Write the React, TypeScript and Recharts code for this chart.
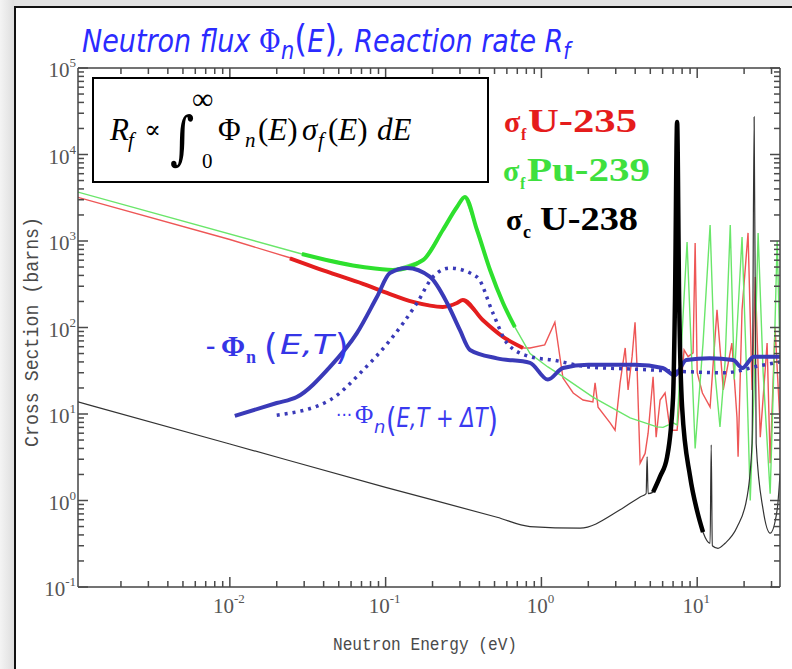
import React from "react";
import { LineChart, Line, XAxis, YAxis } from "recharts";

type Pt = [number, number];

// energy (eV), cross section or flux (barns / arb.)
const u235Thin: Pt[] = [
  [0.00106, 3200], [0.01, 1040], [0.0243, 640], [0.0439, 430], [0.0715, 320],
  [0.102, 251], [0.15, 198], [0.233, 173], [0.287, 192], [0.313, 208],
  [0.42, 122], [0.567, 78], [0.762, 58], [0.845, 58], [1.05, 63], [1.22, 115],
  [1.375, 26], [1.6, 17.5], [1.85, 14.5], [2.14, 13.8], [2.21, 23], [2.31, 12],
  [2.76, 7.9], [2.97, 6.5], [3.2, 23], [3.45, 58], [3.6, 19], [3.82, 46],
  [3.99, 115], [4.11, 35], [4.3, 2.7], [4.63, 3.5], [4.84, 6.0], [5.21, 27],
  [5.45, 5.4], [5.78, 14.5], [6.22, 17.5], [6.7, 6.5], [7.43, 6.5], [8.24, 55],
  [8.74, 46], [9.41, 51], [9.7, 950], [10.0, 30], [10.8, 17.5], [12.1, 12],
  [13.4, 160], [14.7, 19], [16.7, 66], [18.0, 9.2], [18.3, 3.2], [19.4, 160],
  [21.2, 1240], [22.5, 19], [23.6, 384], [25.4, 5.4], [28.1, 66], [29.4, 2.7],
  [31.6, 100], [34, 8],
];

const u235Thick: Pt[] = [
  [0.0243, 630], [0.0439, 430], [0.0715, 320], [0.102, 251], [0.15, 198],
  [0.233, 173], [0.287, 192], [0.313, 208], [0.42, 122], [0.567, 78], [0.762, 58],
];

const pu239Thin: Pt[] = [
  [0.00106, 3680], [0.029, 708], [0.0715, 500], [0.1114, 462], [0.174, 603],
  [0.233, 1340], [0.287, 2470], [0.323, 3230], [0.386, 1340], [0.468, 462],
  [0.567, 192], [0.676, 101], [0.845, 50], [1.1, 35], [1.375, 27], [2.14, 15.7],
  [3.71, 9.0], [5.52, 7.1], [6.04, 7.0], [7.0, 7.9], [7.43, 7.5], [8.61, 973],
  [9.7, 4.0], [10.9, 66], [12.1, 1530], [13.0, 30], [14.0, 7.1], [15.1, 40],
  [16.3, 1530], [17.3, 25], [19.4, 1110], [20.9, 20], [21.9, 1.0], [23.2, 20],
  [24.6, 1240], [26.5, 30], [29.4, 1.2], [31.0, 30], [32.6, 1000], [34, 50],
];

const pu239Thick: Pt[] = [
  [0.029, 708], [0.0715, 500], [0.1114, 462], [0.174, 603], [0.233, 1340],
  [0.287, 2470], [0.323, 3230], [0.386, 1340], [0.468, 462], [0.567, 192], [0.676, 101],
];

const u238Thin: Pt[] = [
  [0.00106, 13.8], [0.01, 4.5], [0.1, 1.42], [0.519, 0.64], [0.845, 0.5],
  [1.77, 0.48], [3.2, 0.78], [4.3, 1.1], [4.7, 1.2], [4.77, 3.2], [4.84, 1.2],
  [5.21, 1.25], [5.78, 1.9], [6.41, 3.2], [7.0, 15.7], [7.2, 200], [7.43, 23800],
  [7.66, 200], [8.0, 12], [9.0, 1.9], [10.0, 0.75], [10.9, 0.43], [12.1, 0.32],
  [12.3, 4.4], [12.5, 0.3], [13.6, 0.28], [15.1, 0.32], [18.0, 0.49], [20.9, 1.1],
  [22.5, 4.6], [23.2, 27200], [23.9, 4.6], [26.5, 0.78], [29.4, 0.42], [32.6, 0.78],
  [34, 2.0],
];

const u238Thick: Pt[] = [
  [5.21, 1.25], [5.78, 1.9], [6.41, 3.2], [7.0, 15.7], [7.2, 200], [7.43, 23800],
  [7.66, 200], [8.0, 12], [9.0, 1.9], [10.0, 0.75], [10.9, 0.43],
];

const fluxT: Pt[] = [
  [0.01076, 9.5], [0.02, 13.4], [0.0269, 15.7], [0.0439, 35], [0.0654, 86],
  [0.0879, 225], [0.1066, 427], [0.137, 487], [0.193, 384], [0.248, 192],
  [0.3, 93], [0.348, 55], [0.519, 44], [0.845, 39], [1.1, 25], [1.375, 34],
  [2.0, 37], [4.0, 37], [6.0, 34], [7.2, 28], [8.5, 42], [12, 44], [17, 42],
  [19.5, 34], [23, 46], [34, 46],
];

const fluxDT: Pt[] = [
  [0.02, 9.7], [0.0439, 14.5], [0.0715, 32], [0.1066, 71], [0.159, 192],
  [0.201, 384], [0.259, 487], [0.386, 384], [0.489, 146], [0.601, 66],
  [0.845, 46], [1.186, 42], [2.0, 35], [4.0, 33], [8.0, 31], [15, 30],
  [25, 36], [34, 40],
];

const xMajor = [0.01, 0.1, 1, 10];
const yMajor = [0.1, 1, 10, 100, 1000, 10000, 100000];
const xDecades = [0.001, 0.01, 0.1, 1, 10];
const yDecades = [0.1, 1, 10, 100, 1000, 10000];
const X_DOMAIN: [number, number] = [0.00106, 34];
const Y_DOMAIN: [number, number] = [0.1, 100000];

const minors = (decades: number[], [lo, hi]: [number, number]) =>
  decades
    .flatMap((d) => [2, 3, 4, 5, 6, 7, 8, 9].map((k) => +(k * d).toPrecision(3)))
    .filter((v) => v > lo && v < hi);

const xTicks = [...xMajor, ...minors(xDecades, X_DOMAIN)].sort((a, b) => a - b);
const yTicks = [...yMajor, ...minors(yDecades, Y_DOMAIN)].sort((a, b) => a - b);

const rows = (pts: Pt[]) => pts.map(([e, s]) => ({ e, s }));
const expOf = (v: number) => Math.round(Math.log10(v));
const isMajor = (v: number) => Math.abs(Math.log10(v) - expOf(v)) < 1e-6;

const AXIS = "#555";
const TICK = "#4a4a4a";
const FRAME = "#444";
const BLUE = "#3a3ab8";

type Side = "bottom" | "top" | "left" | "right";

// inward tick marks (longer for decades); labels only on bottom/left decades
function makeTick(side: Side) {
  return function Tick({ x, y, payload }: any) {
    const v = payload.value;
    const major = isMajor(v);
    const len = major ? 10 : 6;
    const line =
      side === "bottom" ? { x1: x, x2: x, y1: y, y2: y - len }
      : side === "top" ? { x1: x, x2: x, y1: y, y2: y + len }
      : side === "left" ? { x1: x, x2: x + len, y1: y, y2: y }
      : { x1: x, x2: x - len, y1: y, y2: y };
    return (
      <g>
        <line {...line} stroke={TICK} strokeWidth={1.5} />
        {major && side === "bottom" && (
          <text x={x - 1} y={y + 26} textAnchor="middle" fill={AXIS} fontFamily="Liberation Serif" fontSize={21}>
            10<tspan dy={-10} fontSize={13}>{expOf(v)}</tspan>
          </text>
        )}
        {major && side === "left" && (
          <text x={x - 2} y={y + 9} textAnchor="end" fill={AXIS} fontFamily="Liberation Serif" fontSize={21}>
            10<tspan dy={-10} fontSize={13}>{expOf(v)}</tspan>
          </text>
        )}
      </g>
    );
  };
}

const BottomTick = makeTick("bottom");
const TopTick = makeTick("top");
const LeftTick = makeTick("left");
const RightTick = makeTick("right");

function Overlay() {
  const serif = "Liberation Serif";
  return (
    <svg width={792} height={669} style={{ position: "absolute", left: 0, top: 0, pointerEvents: "none" }}>
      {/* title */}
      <g transform="translate(0 52) scale(1 1.15) translate(0 -52)">
        <text x={82} y={52} fill="#2b2bff" fontFamily="DejaVu Sans" fontStyle="italic" fontSize={27}>
          Neutron flux <tspan fontFamily="DejaVu Serif" fontStyle="normal">Φ</tspan>
          <tspan dy={6} fontSize={21}>n</tspan>
          <tspan dy={-6} fontStyle="normal" fontSize={33}>(</tspan>E<tspan fontStyle="normal" fontSize={33}>)</tspan>
          , Reaction rate R<tspan dy={6} fontSize={20}>f</tspan>
        </text>
      </g>

      {/* formula box */}
      <rect x={93} y={78} width={395} height={104} fill="#fff" stroke="#000" strokeWidth={2} />
      <g fontFamily={serif} fill="#000">
        <text x={110} y={140} fontSize={31} fontStyle="italic">R</text>
        <text x={128} y={147} fontSize={21} fontStyle="italic">f</text>
        <text x={144} y={138} fontSize={25} fontFamily="DejaVu Serif">∝</text>
        <g transform="translate(170 0) scale(0.8 1)">
          <text x={0} y={158} fontSize={58} fontFamily="DejaVu Serif">∫</text>
        </g>
        <text x={192} y={109} fontSize={30}>∞</text>
        <text x={202} y={168} fontSize={21}>0</text>
        <text x={218} y={140} fontSize={31}>Φ</text>
        <text x={245} y={147} fontSize={21} fontStyle="italic">n</text>
        <text x={258} y={140} fontSize={31}>(<tspan fontStyle="italic">E</tspan>)</text>
        <text x={302} y={140} fontSize={31} fontStyle="italic">σ</text>
        <text x={318} y={147} fontSize={21} fontStyle="italic">f</text>
        <text x={328} y={140} fontSize={31}>(<tspan fontStyle="italic">E</tspan>)</text>
        <text x={377} y={140} fontSize={31} fontStyle="italic">dE</text>
      </g>

      {/* series names */}
      <g fontFamily={serif} fontWeight="bold">
        <text x={504} y={132} fontSize={30} fill="#e51c1c">σ</text>
        <text x={521} y={140} fontSize={16} fill="#e51c1c">f</text>
        <text x={528} y={132} fontSize={34} fill="#e51c1c" textLength={109} lengthAdjust="spacingAndGlyphs">U-235</text>
        <text x={503} y={181} fontSize={30} fill="#3ee03e">σ</text>
        <text x={520} y={189} fontSize={16} fill="#3ee03e">f</text>
        <text x={527} y={181} fontSize={34} fill="#3ee03e" textLength={123} lengthAdjust="spacingAndGlyphs">Pu-239</text>
        <text x={506} y={230} fontSize={30} fill="#000">σ</text>
        <text x={523} y={238} fontSize={18} fill="#000">c</text>
        <text x={540} y={230} fontSize={34} fill="#000" textLength={98} lengthAdjust="spacingAndGlyphs">U-238</text>
      </g>

      {/* flux labels */}
      <g fill="#3535e6">
        <text x={206} y={354} fontFamily={serif} fontWeight="bold" fontSize={28}>-</text>
        <text x={221} y={356} fontFamily={serif} fontWeight="bold" fontSize={29}>Φ</text>
        <text x={246} y={363} fontFamily={serif} fontWeight="bold" fontSize={18}>n</text>
        <text x={264} y={359} fontFamily="DejaVu Sans" fontSize={35}>(</text>
        <text x={280} y={354} fontFamily="DejaVu Sans" fontStyle="italic" fontSize={26} textLength={54} lengthAdjust="spacingAndGlyphs">E,T</text>
        <text x={335} y={359} fontFamily="DejaVu Sans" fontSize={35}>)</text>
      </g>
      <g fill="#3a3af0">
        <text x={336} y={421} fontFamily="DejaVu Sans" fontSize={17}>···</text>
        <text x={355} y={423} fontFamily={serif} fontSize={25}>Φ</text>
        <text x={374} y={433} fontFamily="DejaVu Sans" fontStyle="italic" fontSize={18}>n</text>
        <text x={386} y={432} fontFamily="DejaVu Sans" fontSize={33} textLength={112} lengthAdjust="spacingAndGlyphs">
          (<tspan dy={-5} fontSize={26} fontStyle="italic">E,T + ΔT</tspan>
          <tspan dy={5}>)</tspan>
        </text>
      </g>

      {/* axis titles */}
      <text
        x={32}
        y={332}
        transform="rotate(-90 32 332)"
        textAnchor="middle"
        dominantBaseline="central"
        fontFamily="Liberation Mono"
        fontSize={20}
        fill="#4a4a4a"
        textLength={230}
        lengthAdjust="spacingAndGlyphs"
      >
        Cross Section (barns)
      </text>
      <text x={333} y={650} fontFamily="Liberation Mono" fontSize={19} fill="#4a4a4a" textLength={184} lengthAdjust="spacingAndGlyphs">
        Neutron Energy (eV)
      </text>
    </svg>
  );
}

export default function App() {
  const frame = { stroke: FRAME, strokeWidth: 1.5 };
  const common = { type: "number" as const, scale: "log" as const, allowDataOverflow: true, tickLine: false, tickSize: 0, tickMargin: 0, interval: 0 as const, axisLine: frame };
  return (
    <div style={{ position: "relative", width: 792, height: 669, background: "#fff", overflow: "hidden" }}>
      <style>{`body{margin:0}`}</style>
      <div style={{ position: "absolute", left: 0, top: 0, width: 792, height: 6, background: "#e2e2e2" }} />
      <div style={{ position: "absolute", left: 0, top: 0, width: 14, height: 669, background: "linear-gradient(to right,#f4f4f4,#dedede)" }} />
      <div style={{ position: "absolute", left: 14, top: 6, width: 778, height: 2, background: "#111" }} />
      <div style={{ position: "absolute", left: 14, top: 6, width: 2, height: 663, background: "#111" }} />

      <div style={{ position: "absolute", left: 0, top: 0 }}>
        <LineChart width={792} height={669} margin={{ top: 68, right: 12, bottom: 42, left: 18 }}>
          <XAxis xAxisId="x" dataKey="e" domain={X_DOMAIN} ticks={xTicks} tick={BottomTick} height={40} {...common} />
          <XAxis xAxisId="xTop" dataKey="e" domain={X_DOMAIN} ticks={xTicks} tick={TopTick} orientation="top" mirror height={1} {...common} />
          <YAxis yAxisId="y" domain={Y_DOMAIN} ticks={yTicks} tick={LeftTick} width={60} {...common} />
          <YAxis yAxisId="yR" domain={Y_DOMAIN} ticks={yTicks} tick={RightTick} orientation="right" mirror width={1} {...common} />

          <Line xAxisId="x" yAxisId="y" data={rows(u235Thin)} dataKey="s" type="linear" stroke="#ee5656" strokeWidth={1.4} dot={false} isAnimationActive={false} />
          <Line xAxisId="x" yAxisId="y" data={rows(pu239Thin)} dataKey="s" type="linear" stroke="#6ae66a" strokeWidth={1.4} dot={false} isAnimationActive={false} />
          <Line xAxisId="x" yAxisId="y" data={rows(u238Thin)} dataKey="s" type="monotone" stroke="#333" strokeWidth={1.2} dot={false} isAnimationActive={false} />
          <Line xAxisId="x" yAxisId="y" data={rows(pu239Thick)} dataKey="s" type="monotone" stroke="#2ee02e" strokeWidth={4} dot={false} isAnimationActive={false} />
          <Line xAxisId="x" yAxisId="y" data={rows(u235Thick)} dataKey="s" type="monotone" stroke="#e41e1e" strokeWidth={4} dot={false} isAnimationActive={false} />
          <Line xAxisId="x" yAxisId="y" data={rows(fluxDT)} dataKey="s" type="monotone" stroke={BLUE} strokeWidth={3.5} strokeDasharray="3 5" dot={false} isAnimationActive={false} />
          <Line xAxisId="x" yAxisId="y" data={rows(fluxT)} dataKey="s" type="monotone" stroke={BLUE} strokeWidth={4} dot={false} isAnimationActive={false} />
          <Line xAxisId="x" yAxisId="y" data={rows(u238Thick)} dataKey="s" type="monotone" stroke="#000" strokeWidth={4.5} dot={false} isAnimationActive={false} />
        </LineChart>
      </div>
      <Overlay />
    </div>
  );
}
